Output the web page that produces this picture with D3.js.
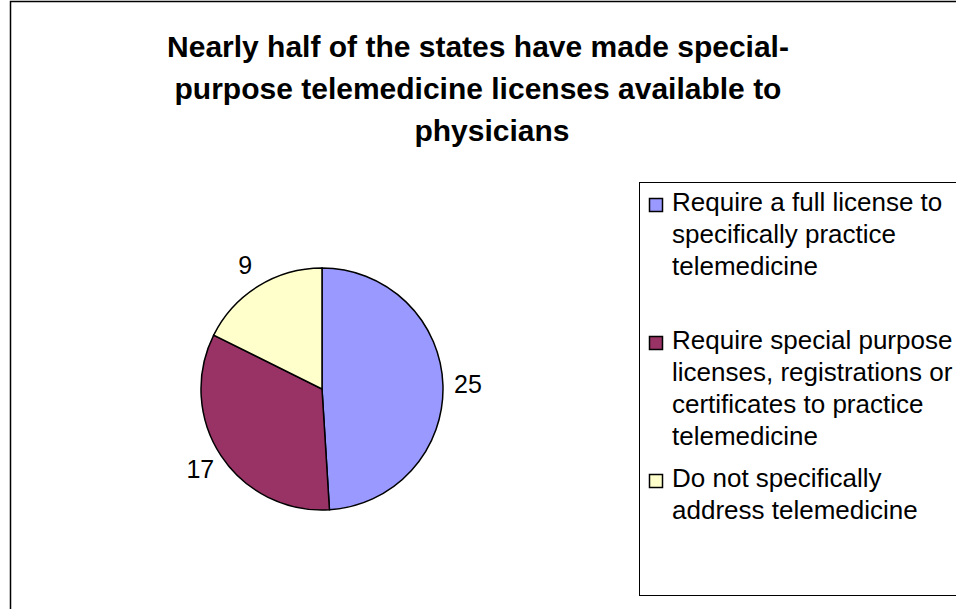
<!DOCTYPE html>
<html>
<head>
<meta charset="utf-8">
<script src="https://cdn.jsdelivr.net/npm/d3@7"></script>
<style>
  body { margin: 0; background: #fff; }
  svg { display: block; font-family: "Liberation Sans", Arial, sans-serif; }
</style>
</head>
<body>
<svg id="chart" width="956" height="609"></svg>
<script>
const categories = [
  "Require a full license to specifically practice telemedicine",
  "Require special purpose licenses, registrations or certificates to practice telemedicine",
  "Do not specifically address telemedicine"
];
const values = [25, 17, 9];
const colors = ["#9999FF", "#993366", "#FFFFCC"];
const legendLines = [
  ["Require a full license to", "specifically practice", "telemedicine"],
  ["Require special purpose", "licenses, registrations or", "certificates to practice", "telemedicine"],
  ["Do not specifically", "address telemedicine"]
];
const titleLines = [
  "Nearly half of the states have made special-",
  "purpose telemedicine licenses available to",
  "physicians"
];

const width = 956, height = 609;
const svg = d3.select("#chart");

// chart area border (runs off right and bottom)
svg.append("rect")
  .attr("x", 10.5).attr("y", 1.5)
  .attr("width", width + 10).attr("height", height + 10)
  .attr("fill", "#fff").attr("stroke", "#000").attr("stroke-width", 1.5);

// title
// last line sits a bit right of centre in the original
const titleShift = [0, 0, 14];
svg.append("g")
  .selectAll("text")
  .data(titleLines)
  .join("text")
  .attr("x", (d, i) => 478 + titleShift[i])
  .attr("y", (d, i) => 57 + i * 42)
  .attr("text-anchor", "middle")
  .attr("font-size", 30)
  .attr("font-weight", "bold")
  .text(d => d);

// pie
const cx = 322, cy = 389, r = 121;
const pie = d3.pie().sort(null).value(d => d);
const arcs = pie(values);
const arc = d3.arc().innerRadius(0).outerRadius(r);

const g = svg.append("g").attr("transform", `translate(${cx},${cy})`);
g.selectAll("path")
  .data(arcs)
  .join("path")
  .attr("d", arc)
  .attr("fill", (d, i) => colors[i])
  .attr("stroke", "#000")
  .attr("stroke-width", 1.5);

// data labels outside the pie
const labelArc = d3.arc().innerRadius(r + 25).outerRadius(r + 25);
g.selectAll("text")
  .data(arcs)
  .join("text")
  .attr("transform", d => {
    const [x, y] = labelArc.centroid(d);
    return `translate(${x},${y})`;
  })
  .attr("text-anchor", "middle")
  .attr("dy", "0.35em")
  .attr("font-size", 25)
  .text(d => d.data);

// legend
const legend = svg.append("g");
legend.append("rect")
  .attr("x", 639.5).attr("y", 182.5)
  .attr("width", 330).attr("height", 413)
  .attr("fill", "#fff").attr("stroke", "#000").attr("stroke-width", 1);

const itemY = [211, 349, 487];
const item = legend.selectAll("g.item")
  .data(categories)
  .join("g")
  .attr("class", "item")
  .attr("transform", (d, i) => `translate(649,${itemY[i]})`);

item.append("rect")
  .attr("x", 0.5).attr("y", -12.5)
  .attr("width", 13).attr("height", 13)
  .attr("fill", (d, i) => colors[i])
  .attr("stroke", "#000").attr("stroke-width", 1.5);

item.append("text")
  .attr("font-size", 26)
  .selectAll("tspan")
  .data((d, i) => legendLines[i])
  .join("tspan")
  .attr("x", 23)
  .attr("y", (d, j) => j * 32)
  .text(d => d);
</script>
</body>
</html>
